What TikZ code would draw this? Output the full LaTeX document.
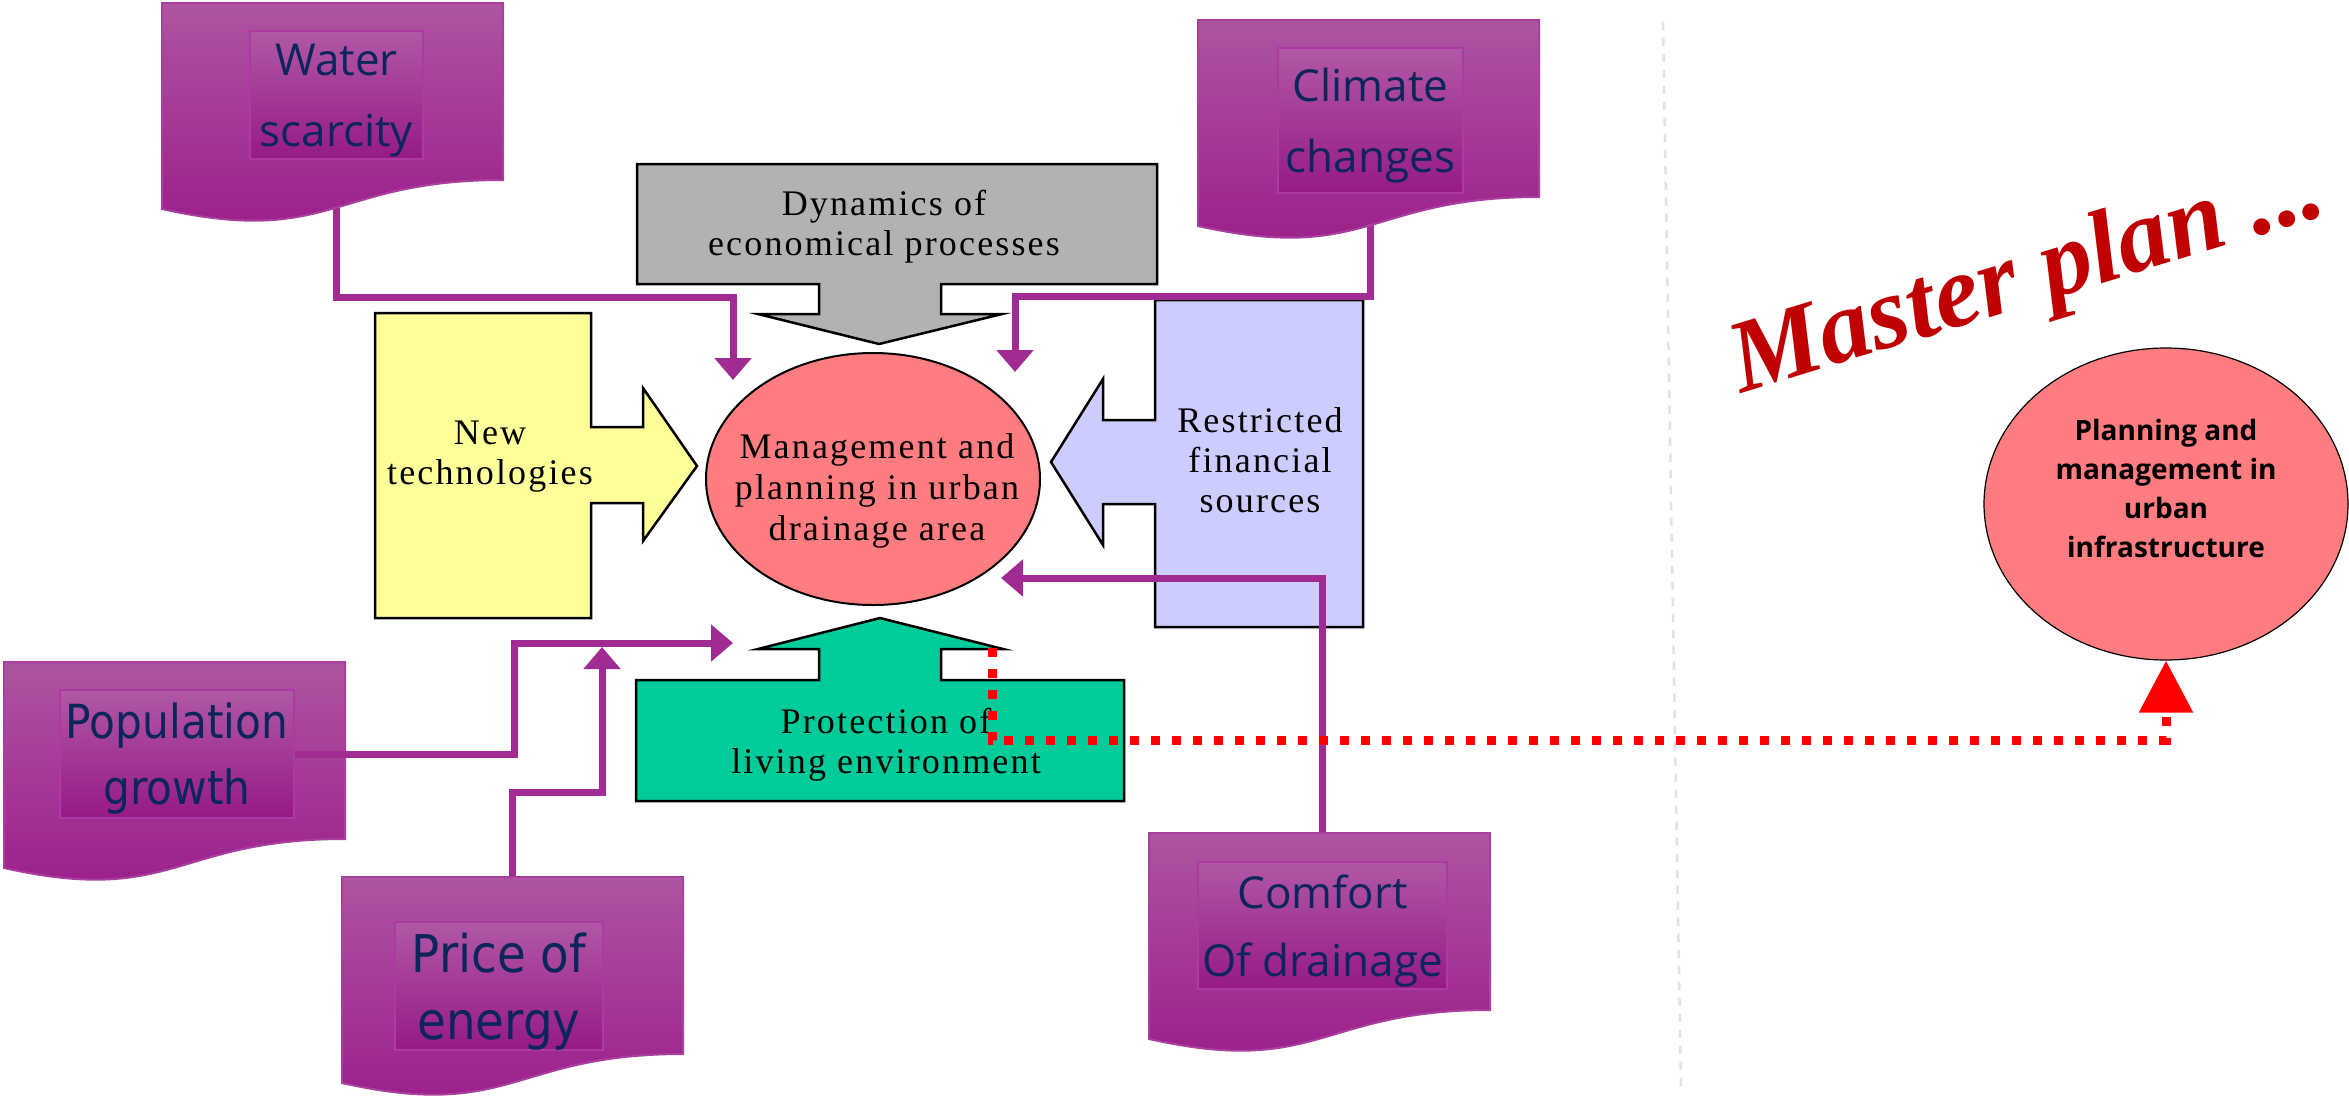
\documentclass[tikz,border=0pt]{standalone}
\usepackage{fontspec}
\setmainfont{Liberation Serif}
\newfontfamily\boxserif[LetterSpace=6]{Liberation Serif}
\newfontfamily\sheetfont{Open Sans}
\newfontfamily\sheetfontn[FakeStretch=0.9]{DejaVu Sans}
\newfontfamily\infrafont{Open Sans}
\newfontfamily\mpfont{Liberation Serif}
\usetikzlibrary{shapes.geometric,arrows.meta,calc}

\definecolor{purp}{RGB}{160,43,146}
\definecolor{sheettop}{RGB}{174,84,161}
\definecolor{sheetmid}{RGB}{162,34,148}
\definecolor{sheetbot}{RGB}{154,27,137}
\definecolor{tagtop}{RGB}{176,88,164}
\definecolor{tagbot}{RGB}{150,26,134}
\definecolor{tagline}{RGB}{172,58,162}
\definecolor{navy}{RGB}{12,38,92}
\definecolor{techyellow}{RGB}{255,255,153}
\definecolor{dyngray}{RGB}{178,178,178}
\definecolor{finblue}{RGB}{204,204,255}
\definecolor{protgreen}{RGB}{0,204,153}
\definecolor{salmon}{RGB}{255,124,128}
\definecolor{darkred}{RGB}{192,0,0}
\definecolor{divgray}{RGB}{226,226,226}

\pgfdeclarelayer{bg}
\pgfdeclarelayer{back}
\pgfdeclarelayer{conn}
\pgfdeclarelayer{front}
\pgfsetlayers{bg,back,conn,main,front}

% wavy-bottom document sheet, top-left corner at (#1,#2)
\newcommand\docsheet[2]{%
  \begin{scope}[shift={(#1,#2)}]
    \shade[sheet] (0,0) -- (341,0) -- (341,177)
      .. controls (170.5,177) and (170.5,244) .. (0,206) -- cycle;
  \end{scope}}

\begin{document}
\begin{tikzpicture}[x=1pt,y=-1pt,
  blockarrow/.style={draw=black, line width=2.5pt, line join=miter},
  boxtext/.style={align=center, inner sep=0pt,
    font=\boxserif\fontsize{36pt}{40pt}\selectfont},
  sheet/.style={draw=purp!90!white, line width=2pt,
    top color=sheettop, middle color=sheetmid, bottom color=sheetbot},
  tag/.style={draw=tagline, line width=1.6pt, inner sep=0pt, text depth=0pt,
    top color=tagtop, bottom color=tagbot, text=navy, align=center,
    font=\sheetfont\fontsize{44pt}{71pt}\selectfont},
  tagn/.style={tag, font=\sheetfontn\fontsize{47pt}{66pt}\selectfont},
  link/.style={draw=purp, line width=7pt,
    -{Triangle[width=36pt,length=22pt]}},
  reddots/.style={draw=red, line width=9pt, dash pattern=on 9pt off 12pt,
    -{Triangle[width=52pt,length=52pt]}}]

\begin{pgfonlayer}{bg}
  \fill[white] (0,0) rectangle (2349,1096);
\end{pgfonlayer}
\useasboundingbox (0,0) rectangle (2349,1096);

\begin{pgfonlayer}{back}
  % dividing line
  \coordinate (divtop) at (1663,22);
  \coordinate (divbot) at (1681,1090);
  \draw[divgray, line width=2.5pt, dash pattern=on 8pt off 8pt] (divtop) -- (divbot);

  % block arrows around the central issue
  \filldraw[blockarrow, fill=dyngray]
    (637,164) -- (1157,164) -- (1157,284) -- (941,284) -- (941,314)
    -- (1002,314) -- (879,344) -- (758,314) -- (819,314) -- (819,284)
    -- (637,284) -- cycle;
  \node[boxtext] (dyn) at (884,227) {Dynamics of\\economical processes};

  \filldraw[blockarrow, fill=techyellow]
    (375,313) -- (591,313) -- (591,427) -- (643,427) -- (643,388)
    -- (697,466) -- (643,541) -- (643,503) -- (591,503) -- (591,618)
    -- (375,618) -- cycle;
  \node[boxtext] (newtech) at (490,457) {New\\technologies};

  \filldraw[blockarrow, fill=finblue]
    (1155,300) -- (1363,300) -- (1363,627) -- (1155,627) -- (1155,504)
    -- (1103,504) -- (1103,545) -- (1051,462) -- (1103,379) -- (1103,420)
    -- (1155,420) -- cycle;
  \node[boxtext] (fin) at (1260,460) {Restricted\\financial\\sources};

  \filldraw[blockarrow, fill=protgreen]
    (636,680) -- (819,680) -- (819,649) -- (758,649) -- (880,618)
    -- (1003,649) -- (941,649) -- (941,680) -- (1124,680) -- (1124,801)
    -- (636,801) -- cycle;
  \node[boxtext] (prot) at (886,745) {Protection of\\living environment};

  % central issue
  \node[ellipse, draw=black, line width=2pt, fill=salmon, inner sep=0pt,
        minimum width=334pt, minimum height=252pt] (mgmt) at (873,479) {};
  \node[boxtext, font=\boxserif\fontsize{36pt}{41pt}\selectfont]
    (mgmttext) at (877,491) {Management and\\planning in urban\\drainage area};

  % master plan target
  \node[ellipse, draw=black, line width=1.2pt, fill=salmon, inner sep=0pt,
        minimum width=364pt, minimum height=312pt] (infra) at (2166,504) {};
  \node[align=center, inner sep=0pt,
        font=\infrafont\bfseries\fontsize{28pt}{39pt}\selectfont]
    (infratext) at (2166,488) {Planning and\\management in\\urban\\infrastructure};

  \node[rotate=17, text=darkred, inner sep=0pt,
        font=\mpfont\bfseries\itshape\fontsize{103pt}{103pt}\selectfont]
    (master) at (2028,280) {Master plan ...};
\end{pgfonlayer}

% external factors
\docsheet{162}{3}
\node[tag, minimum width=173pt, minimum height=128pt] (water) at (336.5,95) {Water\\scarcity};
\docsheet{1198}{20}
\node[tag, minimum width=185pt, minimum height=145pt] (climate) at (1370.5,120.5) {Climate\\changes};
\docsheet{4}{662}
\node[tagn, minimum width=234pt, minimum height=128pt] (pop) at (177,754) {Population\\growth};
\docsheet{342}{877}
\node[tagn, minimum width=208pt, minimum height=128pt,
      font=\sheetfontn\fontsize{52pt}{67pt}\selectfont] (price) at (499,986) {Price of\\energy};
\docsheet{1149}{833}
\node[tag, minimum width=249pt, minimum height=127pt,
      font=\sheetfont\fontsize{44pt}{68pt}\selectfont] (comfort) at (1322.5,925.5) {Comfort\\Of drainage};

\begin{pgfonlayer}{conn}
  \coordinate (wbend) at (733,297);
  \coordinate (wtip)  at (733,380);
  \draw[link] (water.south) |- (wbend) -- (wtip);

  \coordinate (cbend) at (1015,296);
  \coordinate (ctip)  at (1015,372);
  \draw[link] (climate.south) |- (cbend) -- (ctip);

  \coordinate (ftip) at (1001,578);
  \draw[link] (comfort.north) |- (ftip);

  \coordinate (ebend) at (602,792);
  \coordinate (etip)  at (602,647);
  \draw[link] ([xshift=13pt]price.north) |- (ebend) -- (etip);
\end{pgfonlayer}

\begin{pgfonlayer}{front}
  \coordinate (pbend) at (514,643);
  \coordinate (ptip)  at (733,643);
  \draw[link] (pop.east) -| (pbend) -- (ptip);

  \coordinate (rstart) at (992,648);
  \draw[reddots] (rstart) |- ($(infra.south)+(0,80)$) -- (infra.south);
\end{pgfonlayer}
\end{tikzpicture}
\end{document}
